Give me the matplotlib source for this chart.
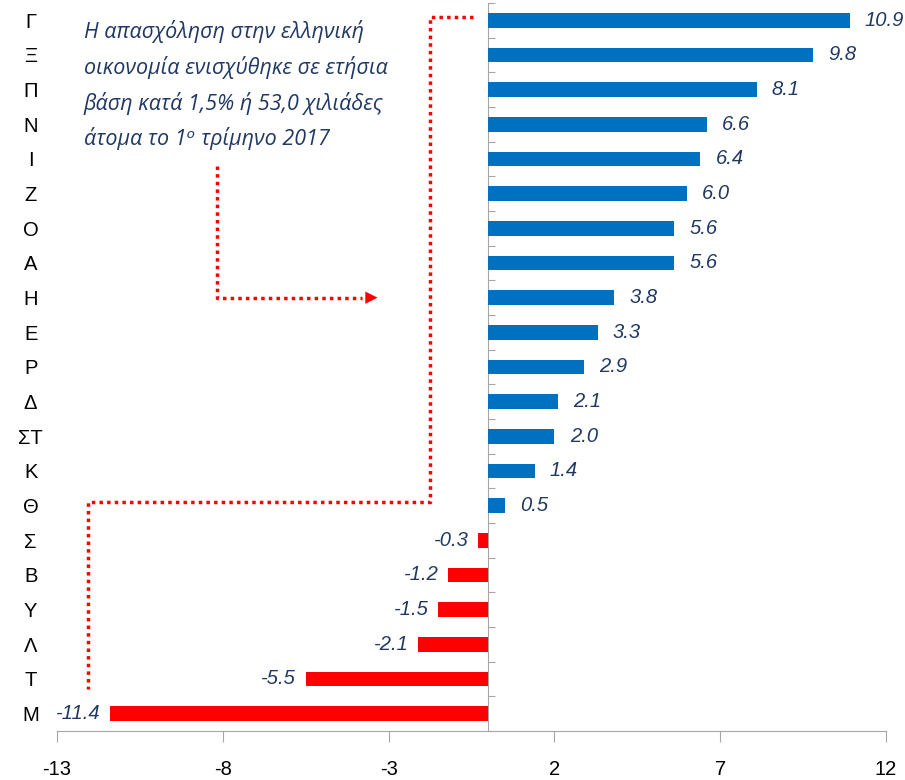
import numpy as np
import matplotlib.pyplot as plt

# data
categories = ["Γ", "Ξ", "Π", "Ν", "Ι", "Ζ", "Ο", "Α", "Η", "Ε",
              "Ρ", "Δ", "ΣΤ", "Κ", "Θ", "Σ", "Β", "Υ", "Λ", "Τ", "Μ"]
values = [10.9, 9.8, 8.1, 6.6, 6.4, 6.0, 5.6, 5.6, 3.8, 3.3,
          2.9, 2.1, 2.0, 1.4, 0.5, -0.3, -1.2, -1.5, -2.1, -5.5, -11.4]
x_ticks = [-13, -8, -3, 2, 7, 12]
note = ("Η απασχόληση στην ελληνική\n"
        "οικονομία ενισχύθηκε σε ετήσια\n"
        "βάση κατά 1,5% ή 53,0 χιλιάδες\n"
        "άτομα το 1ᵒ τρίμηνο 2017")

narrow = ["Liberation Sans", "DejaVu Sans"]
navy = "#1f3864"
blue = "#0070c0"
red = "#ff0000"
grey = "#a6a6a6"

n = len(categories)
pos = np.arange(n)

fig = plt.figure(figsize=(9.05, 7.8), dpi=100)
ax = fig.add_axes([57/905, 1-731/780, (886-57)/905, 728/780])

colors = [blue if v >= 0 else red for v in values]
ax.barh(pos, values, height=0.43, color=colors)

for p, v in zip(pos, values):
    if v >= 0:
        ax.annotate(f"{v:.1f}", (v, p), xytext=(11, 0), textcoords="offset points",
                    ha="left", va="center", fontsize=14.5, style="italic",
                    color=navy, family=narrow)
    else:
        ax.annotate(f"{v:.1f}", (v, p), xytext=(-7, 0), textcoords="offset points",
                    ha="right", va="center", fontsize=14.5, style="italic",
                    color=navy, family=narrow)

ax.set_xlim(-13, 12)
ax.set_ylim(n - 0.5, -0.5)
ax.set_xticks(x_ticks)
ax.set_xticklabels([str(t) for t in x_ticks], family=narrow, fontsize=14.5)
ax.tick_params(axis="x", length=8, color=grey, pad=13)

ax.set_yticks(pos)
ax.set_yticklabels(categories, family=narrow, fontsize=14.5, ha="center")
ax.tick_params(axis="y", length=0, pad=19)

for s in ["top", "right", "left"]:
    ax.spines[s].set_visible(False)
ax.spines["bottom"].set_color(grey)

# zero line with small ticks between categories
sec = ax.secondary_yaxis(13/25)
sec.set_yticks(np.arange(-0.5, n, 1))
sec.set_yticklabels([])
sec.tick_params(length=5, color=grey)
for s in sec.spines.values():
    s.set_color(grey)

# note and dotted connectors
ax.text(-12.2, 0.0, note, ha="left", va="top", fontsize=15.5, style="italic",
        color=navy, family=["Open Sans", "DejaVu Sans"], linespacing=1.7)

dot = dict(color=red, lw=2.5, ls=(0, (1, 1.2)))
ax.plot([-0.45, -1.75, -1.75, -12.06, -12.06], [-0.1, -0.1, 13.9, 13.9, 19.3], **dot)
ax.plot([-8.17, -8.17, -3.8], [4.2, 8.0, 8.0], **dot)
ax.annotate("", xy=(-3.25, 8.0), xytext=(-3.85, 8.0),
            arrowprops=dict(arrowstyle="-|>", color=red, lw=0, mutation_scale=22))

fig.savefig("out.png", dpi=100)
